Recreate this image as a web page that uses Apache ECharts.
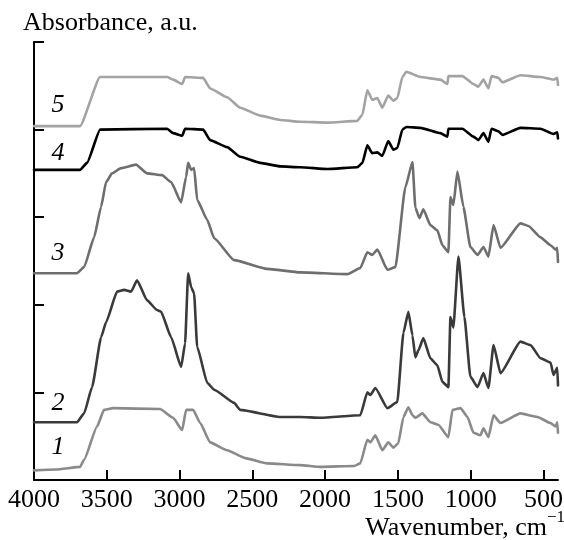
<!DOCTYPE html>
<html><head><meta charset="utf-8">
<script src="https://cdn.jsdelivr.net/npm/echarts@6/dist/echarts.min.js"></script>
<style>html,body{margin:0;padding:0;background:#fff}#c{width:564px;height:540px}</style>
</head><body><div id="c"></div>
<script>
// Tick labels on the wavenumber axis
const xTicks = [4000, 3500, 3000, 2500, 2000, 1500, 1000, 500];
// Curve names and label anchor points [wavenumber, absorbance]
const curveNames = ['1', '2', '3', '4', '5'];
const labelPos = [[3835, 0.37], [3835, 0.88], [3835, 2.59], [3835, 3.73], [3835, 4.28]];
const curveColors = ['#8a8a8a', '#3a3a3a', '#6e6e6e', '#000000', '#a3a3a3'];

// Spectra: [wavenumber (cm-1), absorbance (a.u., offset)]
const curve1 = [[4000,0.11],[3850,0.12],[3684,0.15],[3656,0.23],[3567,0.61],[3519,0.80],[3457,0.82],[3134,0.81],[3044,0.71],[2982,0.57],[2955,0.80],[2907,0.80],[2858,0.65],[2790,0.43],[2673,0.34],[2549,0.25],[2398,0.19],[2171,0.17],[2033,0.15],[1800,0.16],[1758,0.19],[1710,0.46],[1689,0.43],[1655,0.51],[1607,0.34],[1566,0.43],[1531,0.37],[1497,0.42],[1462,0.72],[1428,0.83],[1400,0.74],[1380,0.71],[1332,0.76],[1277,0.66],[1222,0.63],[1153,0.49],[1125,0.80],[1070,0.82],[1022,0.72],[981,0.54],[933,0.51],[912,0.59],[878,0.49],[843,0.74],[795,0.65],[658,0.76],[541,0.72],[451,0.65],[417,0.61],[405,0.66],[400,0.54]];
const curve2 = [[4000,0.66],[3704,0.66],[3656,0.76],[3601,1.06],[3539,1.63],[3505,1.80],[3429,2.15],[3381,2.17],[3333,2.15],[3292,2.28],[3223,2.05],[3154,1.94],[3127,1.92],[3058,1.63],[2989,1.29],[2962,1.56],[2941,2.36],[2920,2.20],[2900,2.13],[2879,1.52],[2810,1.11],[2762,1.03],[2625,0.88],[2583,0.80],[2308,0.72],[2171,0.72],[2033,0.71],[1758,0.74],[1710,1.00],[1689,0.97],[1655,1.05],[1572,0.82],[1504,0.89],[1462,1.68],[1428,1.92],[1400,1.65],[1380,1.40],[1359,1.48],[1325,1.62],[1277,1.39],[1229,1.31],[1194,1.12],[1153,1.06],[1139,1.86],[1119,1.74],[1084,2.55],[1043,1.86],[1002,1.18],[953,1.06],[912,1.22],[878,1.05],[843,1.54],[795,1.22],[658,1.58],[589,1.54],[520,1.39],[451,1.34],[431,1.20],[405,1.28],[400,1.08]];
const curve3 = [[4000,2.36],[3704,2.36],[3656,2.43],[3587,2.77],[3539,3.12],[3505,3.40],[3464,3.50],[3402,3.56],[3299,3.60],[3223,3.50],[3120,3.48],[3058,3.40],[2989,3.17],[2955,3.46],[2941,3.62],[2920,3.54],[2900,3.56],[2879,3.20],[2810,2.97],[2762,2.76],[2625,2.51],[2398,2.41],[2171,2.37],[1847,2.35],[1758,2.42],[1710,2.60],[1676,2.57],[1641,2.63],[1572,2.40],[1517,2.43],[1449,3.34],[1400,3.63],[1380,3.11],[1352,2.99],[1325,3.09],[1277,2.91],[1229,2.85],[1194,2.68],[1153,2.60],[1139,3.23],[1119,3.14],[1091,3.52],[1050,3.12],[1002,2.66],[953,2.57],[912,2.66],[878,2.55],[843,2.91],[795,2.65],[658,2.93],[603,2.90],[520,2.77],[451,2.68],[417,2.63],[405,2.65],[400,2.49]];
const curve4 = [[4000,3.54],[3684,3.54],[3636,3.62],[3546,4.00],[3085,4.01],[3044,3.96],[2982,3.93],[2962,4.01],[2838,4.00],[2790,3.88],[2673,3.80],[2583,3.69],[2446,3.62],[2308,3.58],[2171,3.57],[1985,3.55],[1779,3.57],[1744,3.62],[1710,3.82],[1676,3.73],[1641,3.74],[1607,3.70],[1566,3.87],[1531,3.77],[1504,3.79],[1469,4.00],[1442,4.03],[1345,4.02],[1208,3.96],[1160,3.92],[1153,4.01],[1057,4.01],[981,3.92],[947,3.88],[912,3.96],[878,3.86],[857,4.01],[809,3.98],[782,3.94],[658,4.02],[520,4.01],[431,3.95],[405,3.97],[400,3.90]];
const curve5 = [[4000,4.04],[3684,4.04],[3546,4.60],[3085,4.60],[3044,4.57],[2982,4.52],[2962,4.60],[2838,4.59],[2790,4.47],[2673,4.37],[2583,4.25],[2446,4.16],[2308,4.11],[2171,4.09],[1985,4.08],[1779,4.10],[1744,4.17],[1710,4.45],[1676,4.34],[1641,4.36],[1607,4.25],[1566,4.39],[1531,4.33],[1504,4.36],[1469,4.60],[1442,4.66],[1345,4.60],[1208,4.57],[1160,4.52],[1153,4.61],[1057,4.61],[981,4.52],[947,4.49],[912,4.57],[878,4.47],[857,4.61],[809,4.59],[782,4.54],[658,4.62],[520,4.60],[431,4.57],[405,4.59],[400,4.51]];

const curves = [curve1, curve2, curve3, curve4, curve5];
const FONT = '"Liberation Serif","Times New Roman",serif';

const chart = echarts.init(document.getElementById('c'), null, {renderer: 'canvas'});
const option = {
  animation: false,
  backgroundColor: '#fff',
  grid: {left: 34, right: 6, top: 42, bottom: 60, containLabel: false, outerBoundsMode: 'none'},
  xAxis: {
    type: 'value', min: 400, max: 4000, inverse: true,
    axisLine: {show: true, lineStyle: {color: '#000', width: 2}},
    axisTick: {show: true, inside: true, length: 10, lineStyle: {color: '#000', width: 2}, customValues: xTicks},
    axisLabel: {show: true, customValues: xTicks, margin: 7, color: '#000', fontFamily: FONT, fontSize: 26,
      formatter: v => String(v), hideOverlap: false},
    splitLine: {show: false}
  },
  yAxis: {
    type: 'value', min: 0, max: 5, interval: 1,
    axisLine: {show: true, lineStyle: {color: '#000', width: 2}},
    axisTick: {show: true, inside: true, length: 10, lineStyle: {color: '#000', width: 2}},
    axisLabel: {show: false},
    splitLine: {show: false}
  },
  series: curves.map((d, i) => ({
    type: 'line', name: curveNames[i], data: d, showSymbol: false, symbol: 'none',
    smooth: 0.15, smoothMonotone: 'x',
    lineStyle: {color: curveColors[i], width: 2.6, join: 'round', cap: 'round'}, z: 2 + i
  }))
};
chart.setOption(option);

const g = [
  {type: 'text', left: 23, top: 10, style: {text: 'Absorbance, a.u.', font: '26px ' + FONT, fill: '#000'}},
  {type: 'text', x: 547, y: 528, style: {text: 'Wavenumber, cm', font: '26px ' + FONT, fill: '#000', textAlign: 'right', textVerticalAlign: 'middle'}},
  {type: 'text', x: 547, y: 518, style: {text: '\u22121', font: '17px ' + FONT, fill: '#000', textAlign: 'left', textVerticalAlign: 'middle'}}
];
labelPos.forEach((p, i) => {
  const px = chart.convertToPixel({gridIndex: 0}, p);
  g.push({type: 'text', x: px[0], y: px[1], style: {text: curveNames[i], font: 'italic 26px ' + FONT, fill: '#000', textAlign: 'center', textVerticalAlign: 'middle'}});
});
chart.setOption({graphic: g});
</script></body></html>
